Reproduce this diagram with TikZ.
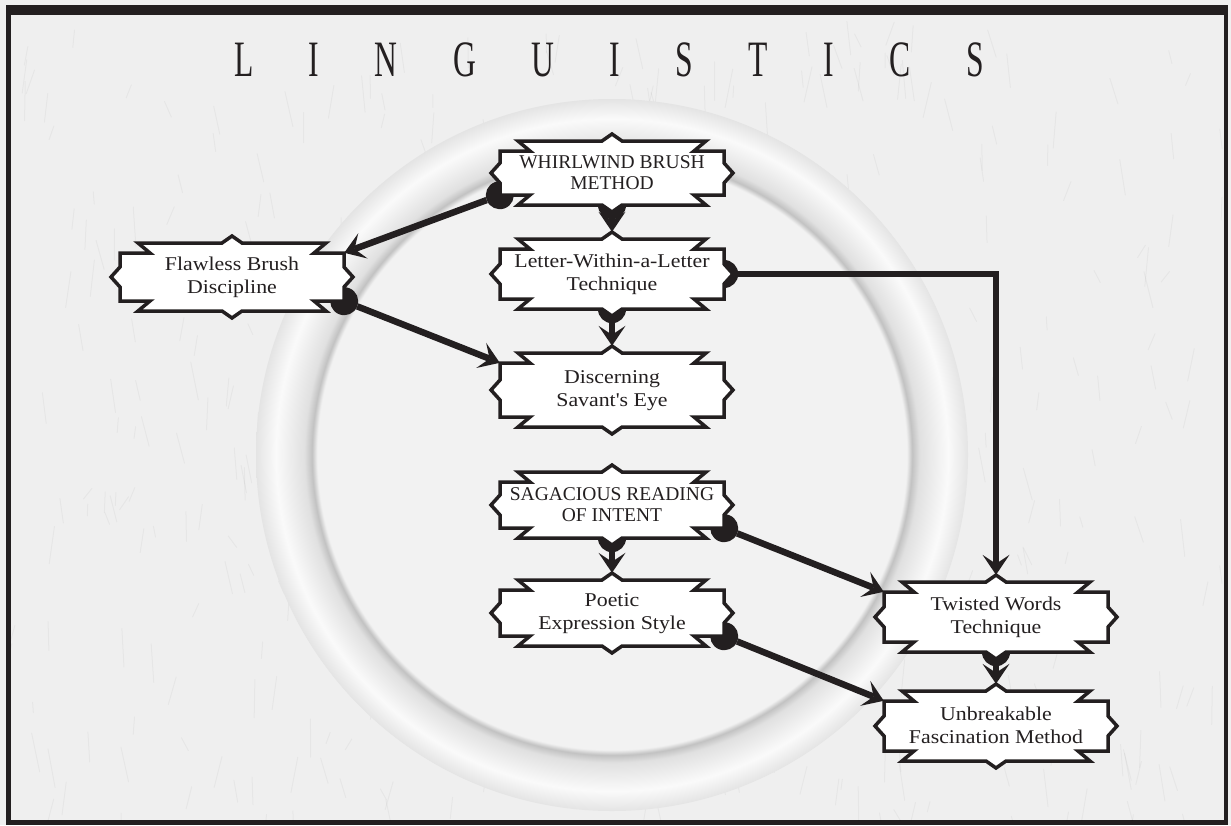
\documentclass[tikz,border=0pt]{standalone}
\usepackage{fontspec}
\setmainfont{Liberation Serif}
\newfontfamily\titlefont[FakeStretch=0.62]{Liberation Serif}
\newfontfamily\boxfont[FakeStretch=1.12]{Liberation Serif}
\newfontfamily\capsfont[FakeStretch=1.0]{Liberation Serif}
\usetikzlibrary{arrows.meta,calc}

\definecolor{ink}{HTML}{231F20}
\definecolor{paper}{HTML}{EFEFEF}

\pgfdeclarelayer{back}
\pgfdeclarelayer{links}
\pgfsetlayers{back,links,main}

% radial profile of the embossed rings (50bp = outer ring radius 356)
\pgfdeclareradialshading{rings}{\pgfpoint{0bp}{0bp}}{%
  color(0bp)=(white!95!black);
  color(20.7bp)=(white!95!black);
  color(21.07bp)=(white!76!black);
  color(21.6bp)=(white!88!black);
  color(23.6bp)=(white!98!black);
  color(25.4bp)=(white!87!black);
  color(25.98bp)=(white!78!black);
  color(26.4bp)=(white!95.5!black);
  color(40.4bp)=(white!96.5!black);
  color(40.73bp)=(white!80!black);
  color(41.3bp)=(white!90!black);
  color(44.9bp)=(white!96.5!black);
  color(49.2bp)=(white!90!black);
  color(50bp)=(white!85!black)}

\tikzset{
  boxline/.style={draw=ink, fill=white, line width=3.5pt, line join=miter},
  boxtext/.style={inner sep=0pt, minimum width=224pt, text=ink,
    font=\boxfont\fontsize{19.5}{23}\selectfont},
  capstext/.style={boxtext, font=\capsfont\fontsize{19.5}{21}\selectfont},
  link/.style={draw=ink, line width=6.5pt,
    {Circle[length=28pt,width=28pt,line width=0pt]}-{Stealth[length=20pt,width=27pt,inset=9pt,line width=0pt]},
    shorten <=-14pt},
}

% two centred lines, lowered by #1 without changing the box
\newcommand\twolines[2]{\raisebox{#1}[\height][\depth]{%
  \renewcommand\arraystretch{1}\begin{tabular}{@{}c@{}}#2\end{tabular}}}

% ornamental label box: name, centre, half height of the sides, text style, text
\newcommand\ornbox[5]{%
  \begin{scope}[shift={#2}]
    \pgfmathsetmacro\hs{#3}
    \pgfmathsetmacro\he{#3+10}
    \pgfmathsetmacro\hp{#3+17}
    \filldraw[boxline] (-112,-\hs) -- (-82,-\hs) -- (-94,-\he) -- (-10,-\he) -- (0,-\hp)
      -- (10,-\he) -- (94,-\he) -- (82,-\hs) -- (112,-\hs) -- (112,-10) -- (121,0)
      -- (112,10) -- (112,\hs) -- (82,\hs) -- (94,\he) -- (10,\he) -- (0,\hp)
      -- (-10,\he) -- (-94,\he) -- (-82,\hs) -- (-112,\hs) -- (-112,10) -- (-121,0)
      -- (-112,-10) -- cycle;
    \node[#4, minimum height=2*\he pt] (#1) at (0,0) {#5};
  \end{scope}}

\newcommand\tsp{\hspace{55.5pt}}

\begin{document}
\begin{tikzpicture}[x=1pt,y=-1pt]
  \useasboundingbox (0,0) rectangle (1231,825);

  \begin{pgfonlayer}{back}
    % frame and paper
    \fill[white!94!black] (0,0) rectangle (1231,825);
    \fill[ink] (6,5) rectangle (1228,825);
    \fill[paper] (11,15) rectangle (1224,820);
    \begin{scope}
      \clip (11,15) rectangle (1224,820);
      % faint streaks in the paper
      \pgfmathsetseed{4211}
      \foreach \i in {1,...,420}{
        \pgfmathsetmacro\px{11+rnd*1213}
        \pgfmathsetmacro\py{15+rnd*805}
        \pgfmathsetmacro\dx{rand*9}
        \pgfmathsetmacro\dy{10+rnd*30}
        \draw[black, opacity=0.035, line width=1pt, line cap=round]
          (\px,\py) -- ++(\dx,\dy);
      }
      % concentric embossed rings
      \shade[shading=rings] (612,455) circle (356);
    \end{scope}
  \end{pgfonlayer}

  % title
  \node[text=ink, inner sep=0pt, anchor=base] (title) at (609,76)
    {\titlefont\fontsize{51}{51}\selectfont L\tsp I\tsp N\tsp G\tsp U\tsp I\tsp S\tsp T\tsp I\tsp C\tsp S};

  % skill boxes
  \ornbox{whirl}{(612,173)}{22}{capstext}{\twolines{-2pt}{WHIRLWIND BRUSH\\METHOD}}
  \ornbox{letter}{(612,274)}{25}{boxtext}{\twolines{0pt}{Letter-Within-a-Letter\\Technique}}
  \ornbox{flaw}{(232,277)}{24}{boxtext}{\twolines{0pt}{Flawless Brush\\Discipline}}
  \ornbox{disc}{(612,390)}{27}{boxtext}{\twolines{0pt}{Discerning\\Savant's Eye}}
  \ornbox{sag}{(612,505)}{23}{capstext}{\twolines{-2pt}{SAGACIOUS READING\\OF INTENT}}
  \ornbox{poetic}{(612,613)}{23}{boxtext}{\twolines{0pt}{Poetic\\Expression Style}}
  \ornbox{twist}{(996,617)}{25}{boxtext}{\twolines{0pt}{Twisted Words\\Technique}}
  \ornbox{unbr}{(996,726)}{25}{boxtext}{\twolines{-1pt}{Unbreakable\\Fascination Method}}

  % prerequisites
  \begin{pgfonlayer}{links}
    \draw[link] (whirl.south) -- ($(letter.north)+(0,-7)$);
    \draw[link] ($(whirl.south west)+(0,-10)$) -- ($(flaw.north east)+(0,10)$);
    \draw[link] (letter.south) -- ($(disc.north)+(0,-7)$);
    \draw[link] ($(flaw.south east)+(0,-10)$) -- ($(disc.north west)+(0,10)$);
    \draw[link] (letter.east) -| ($(twist.north)+(0,-7)$);
    \draw[link] (sag.south) -- ($(poetic.north)+(0,-7)$);
    \draw[link] ($(sag.south east)+(0,-10)$) -- ($(twist.north west)+(0,10)$);
    \draw[link] (twist.south) -- ($(unbr.north)+(0,-7)$);
    \draw[link] ($(poetic.south east)+(0,-10)$) -- ($(unbr.north west)+(0,10)$);
  \end{pgfonlayer}
\end{tikzpicture}
\end{document}
